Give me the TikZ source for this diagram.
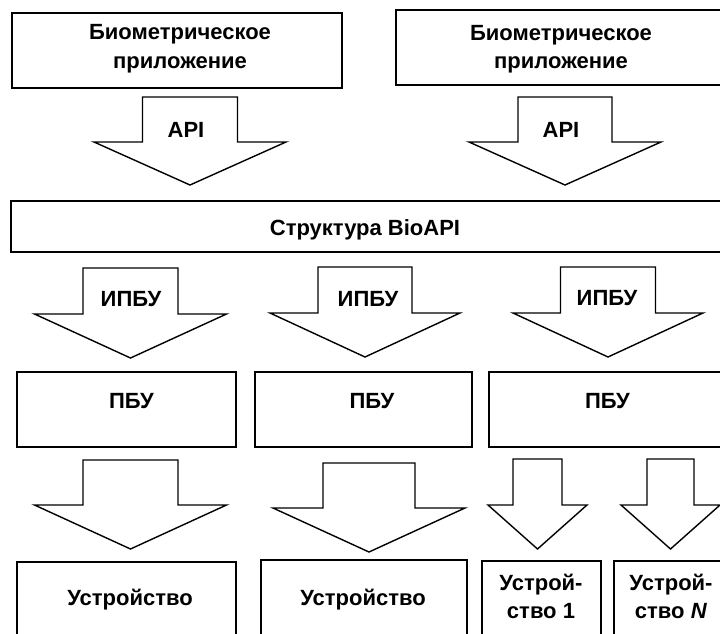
\documentclass[tikz,border=0pt]{standalone}
\usepackage{fontspec}
\setmainfont{Liberation Sans}
\begin{document}
\begin{tikzpicture}[x=1pt,y=-1pt,
  box/.style={draw=black,line width=1.4pt,fill=white},
  blk/.style={draw=black,line width=1.4pt,fill=white,line join=miter},
  txt/.style={anchor=base,inner sep=0pt,font=\fontsize{22}{28}\selectfont\bfseries}]
\newcommand\blockarr[6]{%
  \draw[blk] ({#1-#5},#2) -- ({#1+#5},#2) -- ({#1+#5},#3) -- ({#1+#6},#3) -- (#1,#4) -- ({#1-#6},#3) -- ({#1-#5},#3) -- cycle;}
\useasboundingbox (0,0) rectangle (720,634);
\fill[white] (0,0) rectangle (720,634);
\clip (0,0) rectangle (720,634);
% top boxes
\draw[box] (12,13) rectangle (342,88);
\draw[box] (396,10) rectangle (730,85);
\node[txt] (app1a) at (180,40) {Биометрическое};
\node[txt] (app1b) at (180,68) {приложение};
\node[txt] (app2a) at (561,41) {Биометрическое};
\node[txt] (app2b) at (561,69) {приложение};
% API arrows
\blockarr{190}{97}{142}{185}{47.5}{96}
\blockarr{565}{97}{142}{185}{47}{96}
\node[txt] (api1) at (186,137) {API};
\node[txt] (api2) at (561,137) {API};
% framework
\draw[box] (11,201) rectangle (730,252);
\node[txt] (fw) at (365,235) {Структура BioAPI};
% SPI arrows
\blockarr{130.5}{268}{314}{358}{47.5}{96}
\blockarr{365}{267}{313}{357}{47}{95}
\blockarr{608}{267}{313}{357}{47.5}{95}
\node[txt] (spi1) at (131,306) {ИПБУ};
\node[txt] (spi2) at (368,306) {ИПБУ};
\node[txt] (spi3) at (607,305) {ИПБУ};
% BSP boxes
\draw[box] (17,372) rectangle (236,447);
\draw[box] (255,372) rectangle (472,447);
\draw[box] (489,372) rectangle (730,447);
\node[txt] (bsp1) at (131.5,408) {ПБУ};
\node[txt] (bsp2) at (372,408) {ПБУ};
\node[txt] (bsp3) at (607.5,408) {ПБУ};
% lower arrows
\blockarr{130.5}{460}{505}{549}{47.5}{96}
\blockarr{369}{463}{508}{552}{46}{96}
\blockarr{537.5}{459}{505}{549}{24.5}{49.5}
\blockarr{670.5}{459}{505}{549}{23.5}{49.5}
% devices
\draw[box] (17,562) rectangle (236,650);
\draw[box] (261,560) rectangle (467,650);
\draw[box] (482,561) rectangle (601,650);
\draw[box] (614,561) rectangle (730,650);
\node[txt] (dev1) at (130,605) {Устройство};
\node[txt] (dev2) at (363,605) {Устройство};
\node[txt] (dev3a) at (541,590) {Устрой-};
\node[txt] (dev3b) at (541,618) {ство 1};
\node[txt] (dev4a) at (671,590) {Устрой-};
\node[txt] (dev4b) at (671,618) {ство \textit{N}};
\end{tikzpicture}
\end{document}
